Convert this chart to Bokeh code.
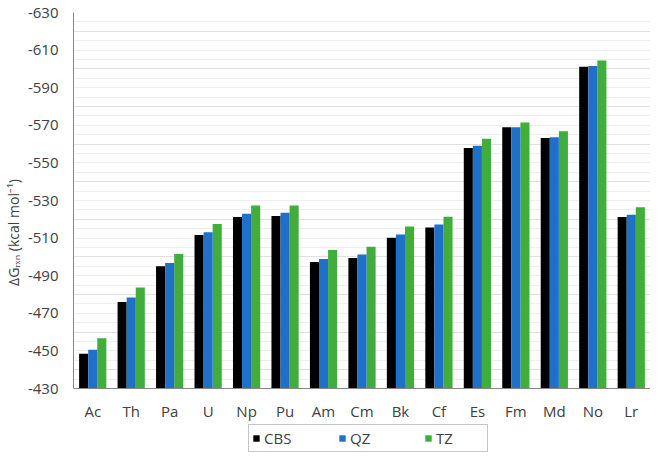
from bokeh.plotting import figure
from bokeh.models import (FactorRange, Range1d, FixedTicker, Legend, LegendItem, Grid,
                          CustomJSTickFormatter, ColumnDataSource)
from bokeh.transform import dodge
from bokeh.embed import file_html
from bokeh.resources import INLINE

elements = ["Ac", "Th", "Pa", "U", "Np", "Pu", "Am", "Cm", "Bk", "Cf", "Es", "Fm", "Md", "No", "Lr"]
cbs = [-448.5, -476.0, -495.1, -511.7, -521.3, -521.8, -497.3, -499.4, -510.2, -515.6, -558.0, -569.0, -563.2, -601.1, -521.3]
qz = [-450.6, -478.4, -496.8, -513.1, -523.0, -523.5, -498.9, -501.3, -512.0, -517.3, -559.2, -569.0, -563.7, -601.6, -522.5]
tz = [-456.7, -483.8, -501.6, -517.5, -527.4, -527.4, -503.7, -505.4, -516.2, -521.4, -562.8, -571.5, -566.9, -604.5, -526.4]
y_ticks = [-430, -450, -470, -490, -510, -530, -550, -570, -590, -610, -630]
series_names = ["CBS", "QZ", "TZ"]
colors = ["#000000", "#1f70c8", "#40ad3c"]

src = ColumnDataSource(dict(el=elements, cbs=cbs, qz=qz, tz=tz))

# y range extends a bit past -430 to leave room for category labels and legend inside the frame
p = figure(width=650, height=452, output_backend="svg", toolbar_location=None,
           x_range=FactorRange(factors=elements, range_padding=0),
           y_range=Range1d(start=-396.0, end=-630),
           min_border_top=12, min_border_bottom=0, min_border_right=0, min_border_left=0)
p.outline_line_color = None
p.background_fill_color = "white"

bw = 0.236
offsets = [-bw, 0.0, bw]
renderers = []
for col, off, c in zip(["cbs", "qz", "tz"], offsets, colors):
    r = p.vbar(x=dodge("el", off, range=p.x_range), top=col, bottom=-430, width=bw,
               source=src, fill_color=c, line_color=None)
    renderers.append(r)

# axes
p.xaxis.fixed_location = -430
p.yaxis.bounds = (-630, -430)
p.yaxis.ticker = FixedTicker(ticks=y_ticks)
p.yaxis.formatter = CustomJSTickFormatter(code="return tick.toFixed(0);")
p.yaxis.axis_label = "ΔGᵣₓₙ (kcal mol⁻¹)"
p.yaxis.axis_label_text_font = "Open Sans"
p.yaxis.axis_label_text_font_style = "normal"
p.yaxis.axis_label_text_font_size = "14px"
p.yaxis.axis_label_text_color = "#404040"
p.yaxis.axis_label_standoff = 2
for ax in (p.xaxis, p.yaxis):
    ax.major_tick_line_color = None
    ax.minor_tick_line_color = None
    ax.axis_line_color = "#888888"
    ax.major_label_text_font = "Open Sans"
    ax.major_label_text_color = "#404040"
p.yaxis.major_label_text_font_size = "15px"
p.yaxis.major_label_standoff = 9
p.xaxis.major_label_text_font_size = "15px"
p.xaxis.major_label_standoff = 6

# grids
p.xgrid.grid_line_color = None
p.ygrid.grid_line_color = "#d4d4d4"
p.ygrid.ticker = FixedTicker(ticks=y_ticks)
g10 = Grid(dimension=1, ticker=FixedTicker(ticks=list(range(-440, -630, -20)),
                                           minor_ticks=list(range(-435, -631, -5))),
           grid_line_color="#e0e0e0", minor_grid_line_color="#eeeeee")
p.add_layout(g10)
p.renderers.insert(0, p.renderers.pop())

legend = Legend(items=[LegendItem(label=n, renderers=[r]) for n, r in zip(series_names, renderers)],
                orientation="horizontal", location=(175, 0),
                glyph_width=8, glyph_height=8, label_standoff=4, label_width=48,
                spacing=26, padding=3, label_text_font="Open Sans", label_text_font_size="15px",
                label_text_color="#404040", border_line_color="#8c8c8c", border_line_width=1,
                background_fill_color="white")
p.add_layout(legend, "center")

open("out.html", "w").write(file_html(p, INLINE))
